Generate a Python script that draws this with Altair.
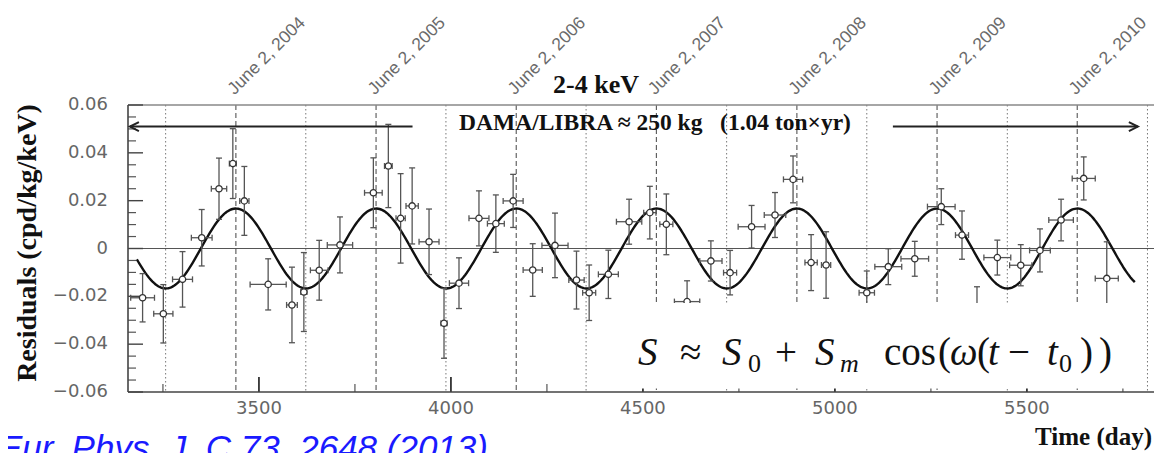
import altair as alt
import numpy as np
import pandas as pd

# ---------------- data ----------------
day = [3197, 3251, 3301, 3351, 3396, 3432, 3462, 3524, 3586, 3617,
       3657, 3711, 3798, 3837, 3869, 3899, 3943, 3982, 4021, 4073,
       4117, 4162, 4213, 4271, 4327, 4360, 4410, 4464, 4518, 4561,
       4615, 4677, 4727, 4783, 4844, 4891, 4938, 4977, 5083, 5139,
       5208, 5277, 5331, 5370, 5423, 5484, 5534, 5589, 5648, 5708]
resid = [-0.0206, -0.0273, -0.0129, 0.0045, 0.0250, 0.0355, 0.0199, -0.0150, -0.0236, -0.0182,
         -0.0091, 0.0015, 0.0233, 0.0345, 0.0126, 0.0178, 0.0028, -0.0313, -0.0145, 0.0126,
         0.0104, 0.0199, -0.0090, 0.0013, -0.0132, -0.0185, -0.0108, 0.0112, 0.0150, 0.0101,
         -0.0222, -0.0052, -0.0101, 0.0091, 0.0140, 0.0289, -0.0059, -0.0069, -0.0185, -0.0076,
         -0.0043, 0.0175, 0.0056, -0.0255, -0.0038, -0.0070, -0.0008, 0.0119, 0.0293, -0.0125]
err_y = [0.0101, 0.0122, 0.0116, 0.0118, 0.0128, 0.0146, 0.0144, 0.0107, 0.0158, 0.0165,
         0.0125, 0.0117, 0.0146, 0.0174, 0.0187, 0.0159, 0.0137, 0.0146, 0.0106, 0.0115,
         0.0120, 0.0111, 0.0110, 0.0135, 0.0121, 0.0116, 0.0101, 0.0094, 0.0110, 0.0127,
         0.0087, 0.0084, 0.0093, 0.0089, 0.0094, 0.0098, 0.0117, 0.0139, 0.0091, 0.0075,
         0.0073, 0.0075, 0.0101, 0.0095, 0.0073, 0.0086, 0.0090, 0.0087, 0.0090, 0.0153]
err_x = [31, 25, 26, 27, 20, 9, 12, 47, 14, 8,
         23, 33, 23, 10, 12, 16, 26, 8, 25, 26,
         22, 26, 25, 34, 20, 17, 26, 33, 16, 17,
         33, 29, 17, 35, 28, 25, 16, 12, 20, 35,
         36, 36, 17, 30, 35, 29, 27, 32, 30, 30]

june2_day = [3440, 3805, 4170, 4535, 4901, 5266, 5631]
june2_label = ["June 2, 2004", "June 2, 2005", "June 2, 2006", "June 2, 2007",
               "June 2, 2008", "June 2, 2009", "June 2, 2010"]
dec2_day = [3257, 3622, 3987, 4352, 4718, 5083, 5449, 5814]

x_tick_values = [3500, 4000, 4500, 5000, 5500]
x_tick_labels = ["3500", "4000", "4500", "5000", "5500"]
x_minor = [3250, 3750, 4250, 4750, 5250, 5750]
y_tick_values = [-0.06, -0.04, -0.02, 0.0, 0.02, 0.04, 0.06]
y_tick_labels = ["\u22120.06", "\u22120.04", "\u22120.02", "0", "0.02", "0.04", "0.06"]
y_minor = [-0.055, -0.05, -0.045, -0.035, -0.03, -0.025, -0.015, -0.01, -0.005,
           0.005, 0.01, 0.015, 0.025, 0.03, 0.035, 0.045, 0.05, 0.055]

# fitted modulation S = S_m cos(w (t - t0)), w = 2 pi / 1 yr
S_M = 0.0167
T_0 = 3440
PERIOD = 365.25
T_START, T_END = 3182, 5781

# ---------------- layout ----------------
W, H = 1026, 287
X_DOM = [3159, 5831]
Y_DOM = [-0.06, 0.06]
PXD = W / (X_DOM[1] - X_DOM[0])      # px per day
PXU = H / (Y_DOM[1] - Y_DOM[0])      # px per unit

xs = alt.Scale(domain=X_DOM, nice=False, zero=False)
ys = alt.Scale(domain=Y_DOM, nice=False, zero=False)


def X(f):
    return alt.X(f, type="quantitative", scale=xs, axis=None)


def Y(f):
    return alt.Y(f, type="quantitative", scale=ys, axis=None)


pts = pd.DataFrame({"day": day, "r": resid, "ey": err_y, "ex": err_x})
pts["lo"] = pts.r - pts.ey
pts["hi"] = pts.r + pts.ey
pts["xl"] = pts.day - pts.ex
pts["xr"] = pts.day + pts.ex
CAPW = 3.0 / PXD
CAPH = 3.0 / PXU
pts["cl"] = pts.day - CAPW
pts["cr"] = pts.day + CAPW
pts["cb"] = pts.r - CAPH
pts["ct"] = pts.r + CAPH

t = np.linspace(T_START, T_END, 700)
curve = pd.DataFrame({"t": t, "s": S_M * np.cos(2 * np.pi * (t - T_0) / PERIOD)})

ERR = "#555555"
AXC = "#444444"
LABC = "#666666"

dotted = alt.Chart(pd.DataFrame({"d": dec2_day})).mark_rule(
    color="#777777", strokeDash=[1.5, 2.5], strokeWidth=1).encode(
    x=X("d"), y=alt.value(0), y2=alt.value(H))
dashed = alt.Chart(pd.DataFrame({"d": june2_day})).mark_rule(
    color="#444444", strokeDash=[5, 3], strokeWidth=1).encode(
    x=X("d"), y=alt.value(0), y2=alt.value(H))
topline = alt.Chart(pd.DataFrame({"v": [Y_DOM[1]]})).mark_rule(
    color="#888888", strokeWidth=1.5).encode(y=Y("v"))
zeroline = alt.Chart(pd.DataFrame({"v": [0.0]})).mark_rule(
    color="#555555", strokeWidth=1).encode(y=Y("v"))
bottomline = alt.Chart(pd.DataFrame({"v": [Y_DOM[0]]})).mark_rule(
    color=AXC, strokeWidth=1.6).encode(y=Y("v"))
leftline = alt.Chart(pd.DataFrame({"v": [X_DOM[0]]})).mark_rule(
    color=AXC, strokeWidth=1.6).encode(x=X("v"))

fit = alt.Chart(curve).mark_line(color="#111111", strokeWidth=2.4).encode(
    x=X("t"), y=Y("s"))

base = alt.Chart(pts)
vbar = base.mark_rule(color=ERR, strokeWidth=1.3).encode(x=X("day"), y=Y("lo"), y2="hi")
hbar = base.mark_rule(color=ERR, strokeWidth=1.3).encode(x=X("xl"), x2="xr", y=Y("r"))
cap_top = base.mark_rule(color=ERR, strokeWidth=1.3).encode(x=X("cl"), x2="cr", y=Y("hi"))
cap_bot = base.mark_rule(color=ERR, strokeWidth=1.3).encode(x=X("cl"), x2="cr", y=Y("lo"))
cap_l = base.mark_rule(color=ERR, strokeWidth=1.3).encode(x=X("xl"), y=Y("cb"), y2="ct")
cap_r = base.mark_rule(color=ERR, strokeWidth=1.3).encode(x=X("xr"), y=Y("cb"), y2="ct")
dots = base.mark_point(shape="circle", filled=True, fill="white", stroke="#333333",
                       strokeWidth=1.3, size=40, opacity=1).encode(x=X("day"), y=Y("r"))

# tick labels
xlab_df = pd.DataFrame({"v": x_tick_values, "lab": x_tick_labels, "y0": Y_DOM[0]})
xlabels = alt.Chart(xlab_df).mark_text(
    font="DejaVu Sans", fontSize=18, color=LABC, align="center", baseline="top",
    dy=8).encode(x=X("v"), y=Y("y0"), text="lab:N")
ylab_df = pd.DataFrame({"v": y_tick_values, "lab": y_tick_labels, "x0": X_DOM[0]})
ylabels = alt.Chart(ylab_df).mark_text(
    font="DejaVu Sans", fontSize=18, color=LABC, align="right", baseline="middle",
    dx=-20).encode(x=X("x0"), y=Y("v"), text="lab:N")

# inward ticks
xt_major = pd.DataFrame({"x": x_tick_values})
xt_major["y0"] = Y_DOM[0]
xt_major["y1"] = Y_DOM[0] + 15 / PXU
xt_minor = pd.DataFrame({"x": x_minor})
xt_minor["y0"] = Y_DOM[0]
xt_minor["y1"] = Y_DOM[0] + 8 / PXU
yt_major = pd.DataFrame({"y": y_tick_values})
yt_major["x0"] = X_DOM[0]
yt_major["x1"] = X_DOM[0] + 15 / PXD
yt_minor = pd.DataFrame({"y": y_minor})
yt_minor["x0"] = X_DOM[0]
yt_minor["x1"] = X_DOM[0] + 8 / PXD

ticks = (
    alt.Chart(xt_major).mark_rule(color="#333333", strokeWidth=1.8).encode(x=X("x"), y=Y("y0"), y2="y1")
    + alt.Chart(xt_minor).mark_rule(color="#555555", strokeWidth=1.2).encode(x=X("x"), y=Y("y0"), y2="y1")
    + alt.Chart(yt_major).mark_rule(color="#444444", strokeWidth=1.4).encode(y=Y("y"), x=X("x0"), x2="x1")
    + alt.Chart(yt_minor).mark_rule(color="#555555", strokeWidth=1.2).encode(y=Y("y"), x=X("x0"), x2="x1")
)

# arrows
ARROW_Y = 0.051
arr = pd.DataFrame({"x0": [3164, 5151], "x1": [3900, 5789], "y": [ARROW_Y, ARROW_Y]})
arrow_lines = alt.Chart(arr).mark_rule(color="#222222", strokeWidth=2).encode(
    x=X("x0"), x2="x1", y=Y("y"))
left_head = alt.Chart(pd.DataFrame({"x": [3164], "y": [ARROW_Y]})).mark_point(
    shape="M 1 -0.5 L 0 0 L 1 0.5", filled=False, size=324, stroke="#222222",
    strokeWidth=2, opacity=1).encode(x=X("x"), y=Y("y"))
right_head = alt.Chart(pd.DataFrame({"x": [5789], "y": [ARROW_Y]})).mark_point(
    shape="M -1 -0.5 L 0 0 L -1 0.5", filled=False, size=324, stroke="#222222",
    strokeWidth=2, opacity=1).encode(x=X("x"), y=Y("y"))

# date labels on top
dates = alt.Chart(pd.DataFrame({"d": june2_day, "lab": june2_label})).mark_text(
    angle=315, align="left", baseline="alphabetic", dx=-2, font="Liberation Sans",
    fontSize=17.5, color="#6a6a6a").encode(x=X("d"), y=alt.value(-11), text="lab:N")


def label(txt, px, py, **kw):
    return alt.Chart(pd.DataFrame({"t": [txt]})).mark_text(**kw).encode(
        x=alt.value(px), y=alt.value(py), text="t:N")


title = label("2-4 keV", 468, -12, font="Liberation Serif", fontWeight="bold",
              fontSize=26, align="center", baseline="alphabetic", color="#111111")
dama = label("DAMA/LIBRA \u2248 250 kg\u00a0\u00a0\u00a0(1.04 ton\u00d7yr)", 527, 25,
             font="Liberation Serif", fontWeight="bold", fontSize=23.5,
             align="center", baseline="alphabetic", color="#111111")
ytitle = label("Residuals (cpd/kg/keV)", -100, 138, font="Liberation Serif",
               fontWeight="bold", fontSize=28, angle=270, align="center",
               baseline="middle", color="#111111")
xtitle = label("Time (day)", 1024, 340, font="Liberation Serif", fontWeight="bold",
               fontSize=25, align="right", baseline="alphabetic", color="#111111")
cite = label("Eur. Phys. J. C 73, 2648 (2013)", -129, 355, font="Liberation Sans",
             fontStyle="italic", fontSize=35, align="left", baseline="alphabetic",
             color="#1a1aff")

# white panel under the formula
box = alt.Chart(pd.DataFrame({"x0": [4440], "x1": [5781], "y0": [-0.0228], "y1": [-0.0585]})).mark_rect(
    color="white", opacity=1).encode(x=X("x0"), x2="x1", y=Y("y0"), y2="y1")

# formula pieces: text, x, baseline y, size, italic
formula = pd.DataFrame({
    "t": ["S", "\u2248", "S", "0", "+", "S", "m", "cos", "(", "\u03c9", "(", "t",
          "\u2212", "t", "0", ")", ")"],
    "px": [510, 552, 594, 620, 647, 687, 712, 756, 810, 822, 849, 860, 880, 919, 931, 952, 971],
    "py": [260, 260, 260, 267, 260, 260, 267, 260, 260, 260, 260, 260, 260, 260, 267, 260, 260],
    "fs": [39, 39, 39, 26, 39, 39, 26, 39, 39, 39, 39, 39, 39, 39, 26, 39, 39],
    "it": [1, 0, 1, 0, 0, 1, 1, 0, 0, 1, 0, 1, 0, 1, 0, 0, 0],
})
fbase = alt.Chart(formula)
f_it = fbase.transform_filter("datum.it == 1").mark_text(
    font="Liberation Serif", fontStyle="italic", align="left", baseline="alphabetic",
    color="#111111").encode(x=alt.X("px:Q", scale=None, axis=None),
                            y=alt.Y("py:Q", scale=None, axis=None),
                            size=alt.Size("fs:Q", scale=None, legend=None), text="t:N")
f_up = fbase.transform_filter("datum.it == 0").mark_text(
    font="Liberation Serif", align="left", baseline="alphabetic",
    color="#111111").encode(x=alt.X("px:Q", scale=None, axis=None),
                            y=alt.Y("py:Q", scale=None, axis=None),
                            size=alt.Size("fs:Q", scale=None, legend=None), text="t:N")

chart = alt.layer(
    dotted, dashed, topline, zeroline, ticks, bottomline, leftline, fit,
    vbar, hbar, cap_top, cap_bot, cap_l, cap_r, dots,
    arrow_lines, left_head, right_head, dates, title, dama, ytitle, xtitle, cite,
    xlabels, ylabels, box, f_it, f_up,
).resolve_scale(x="shared", y="shared").properties(
    width=W, height=H,
    autosize=alt.AutoSizeParams(type="none"),
    padding={"left": 120, "top": 97, "right": 0, "bottom": 61},
    background="white",
).configure_view(stroke=None)

chart.save("out.html", embed_options={"renderer": "svg", "actions": False})
